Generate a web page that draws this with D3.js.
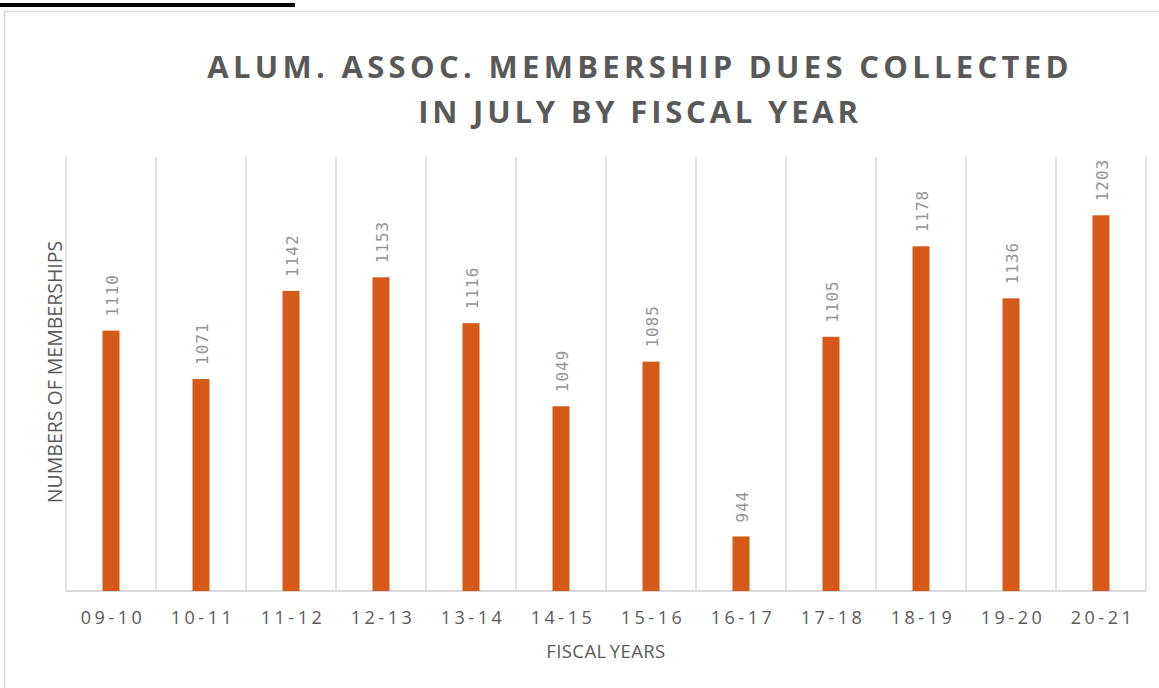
<!DOCTYPE html>
<html>
<head>
<meta charset="utf-8">
<script src="https://cdn.jsdelivr.net/npm/d3@7"></script>
<style>
  html, body { margin: 0; padding: 0; background: #fff; }
  svg { display: block; }
</style>
</head>
<body>
<div id="chart"></div>
<script>
const years = ['09-10', '10-11', '11-12', '12-13', '13-14', '14-15', '15-16', '16-17', '17-18', '18-19', '19-20', '20-21'];
const members = [1110, 1071, 1142, 1153, 1116, 1049, 1085, 944, 1105, 1178, 1136, 1203];
const titleLines = ['ALUM. ASSOC. MEMBERSHIP DUES COLLECTED', 'IN JULY BY FISCAL YEAR'];

const width = 1159, height = 688;
const margin = { top: 157, right: 13, bottom: 97, left: 66 };

const svg = d3.select('#chart').append('svg')
  .attr('width', width)
  .attr('height', height);

// black strip and chart frame
svg.append('rect').attr('x', 0).attr('y', 3).attr('width', 295).attr('height', 4).attr('fill', '#000');
svg.append('rect')
  .attr('x', 4.5).attr('y', 11.5)
  .attr('width', width).attr('height', height)
  .attr('fill', 'none').attr('stroke', '#d9d9d9').attr('stroke-width', 1.5);

const x = d3.scaleBand()
  .domain(years)
  .range([margin.left, width - margin.right])
  .paddingInner(0).paddingOuter(0);

const y = d3.scaleLinear()
  .domain([900, 1250])
  .range([height - margin.bottom, margin.top]);

// vertical gridlines at category boundaries
const bounds = years.map(d => x(d)).concat([x(years[years.length - 1]) + x.bandwidth()]);
svg.append('g').selectAll('line')
  .data(bounds)
  .join('line')
  .attr('x1', d => d).attr('x2', d => d)
  .attr('y1', margin.top).attr('y2', y(900))
  .attr('stroke', '#d9d9d9').attr('stroke-width', 1.5);

// baseline
svg.append('line')
  .attr('x1', margin.left).attr('x2', width - margin.right)
  .attr('y1', y(900)).attr('y2', y(900))
  .attr('stroke', '#d9d9d9').attr('stroke-width', 2);

const barW = 17;
const data = years.map((d, i) => ({ year: d, value: members[i] }));

svg.append('g').selectAll('rect')
  .data(data)
  .join('rect')
  .attr('x', d => x(d.year) + x.bandwidth() / 2 - barW / 2)
  .attr('y', d => y(d.value))
  .attr('width', barW)
  .attr('height', d => y(900) - y(d.value))
  .attr('fill', '#d55a17');

// value labels, rotated
svg.append('g').selectAll('text')
  .data(data)
  .join('text')
  .attr('transform', d => `translate(${x(d.year) + x.bandwidth() / 2 + 6.5},${y(d.value) - 14}) rotate(-90)`)
  .attr('text-anchor', 'start')
  .style('font-family', '"DejaVu Sans Mono", "Liberation Mono", monospace')
  .style('font-size', '16px')
  .style('letter-spacing', '1px')
  .style('fill', '#939393')
  .text(d => d.value);

// x tick labels
svg.append('g').selectAll('text')
  .data(years)
  .join('text')
  .attr('x', d => x(d) + x.bandwidth() / 2 + 2)
  .attr('y', 624)
  .attr('text-anchor', 'middle')
  .style('font-family', '"Open Sans", "DejaVu Sans", sans-serif')
  .style('font-size', '18px')
  .style('letter-spacing', '3.5px')
  .style('fill', '#595959')
  .text(d => d);

// axis titles
svg.append('text')
  .attr('x', 606)
  .attr('y', 658)
  .attr('text-anchor', 'middle')
  .style('font-family', '"Open Sans", "DejaVu Sans", sans-serif')
  .style('font-size', '18.5px')
  .style('letter-spacing', '0.4px')
  .style('word-spacing', '-2px')
  .style('fill', '#595959')
  .text('FISCAL YEARS');

svg.append('text')
  .attr('transform', 'translate(62,372) rotate(-90)')
  .attr('text-anchor', 'middle')
  .style('font-family', '"Open Sans", "DejaVu Sans", sans-serif')
  .style('font-size', '19.5px')
  .style('fill', '#595959')
  .text('NUMBERS OF MEMBERSHIPS');

// title
svg.append('g').selectAll('text')
  .data(titleLines)
  .join('text')
  .attr('x', 640)
  .attr('y', (d, i) => 78 + i * 45)
  .attr('text-anchor', 'middle')
  .style('font-family', '"Open Sans", "DejaVu Sans", sans-serif')
  .style('font-weight', 'bold')
  .style('font-size', '31px')
  .style('letter-spacing', (d, i) => i === 0 ? '4.3px' : '3.8px')
  .style('fill', '#595959')
  .text(d => d);
</script>
</body>
</html>
